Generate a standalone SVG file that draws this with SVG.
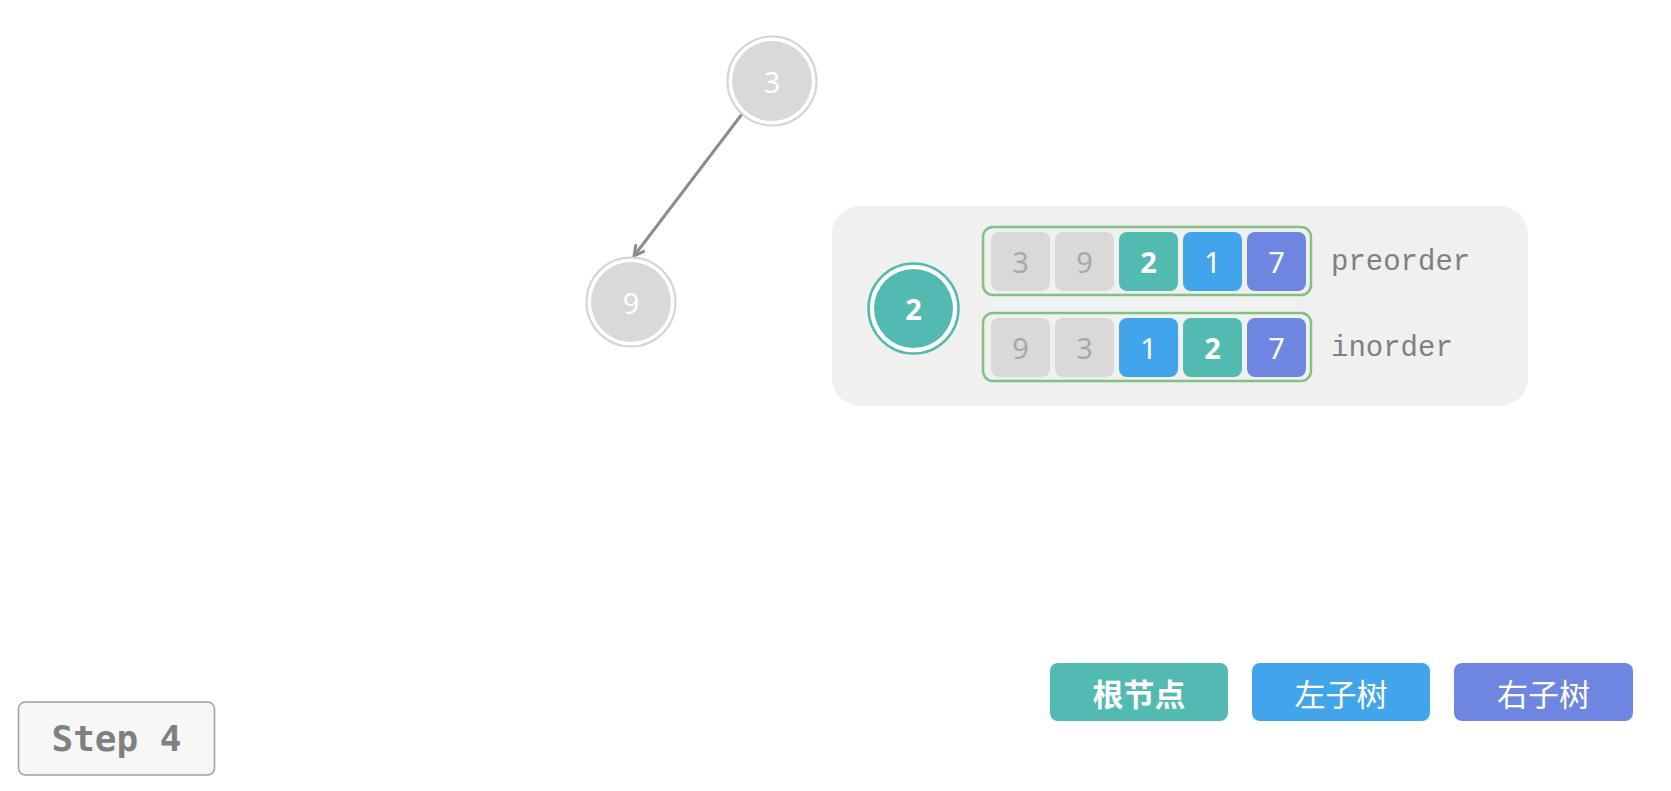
<svg xmlns="http://www.w3.org/2000/svg" width="1671" height="791" viewBox="0 0 1671 791">
<defs>
<style>
.bg{fill:#ffffff}
.gring{fill:#ffffff;stroke:#d4d4d4;stroke-width:2}
.gfill{fill:#d9d9d9}
.ntxt{font-family:"Noto Sans","Open Sans",sans-serif;font-size:29px;fill:#ffffff;text-anchor:middle;dominant-baseline:central}
.cg{fill:#d9d9d9}
.ct{fill:#52bab0}
.cb{fill:#42a5ec}
.cp{fill:#6e86e0}
.gtxt{font-family:"Noto Sans","Open Sans",sans-serif;font-size:29px;fill:#a8a8a8;text-anchor:middle;dominant-baseline:central}
.wtxt{font-family:"Noto Sans","Open Sans",sans-serif;font-size:29px;fill:#ffffff;text-anchor:middle;dominant-baseline:central}
.bold{font-weight:bold}
.lbl{font-family:"Liberation Mono","DejaVu Sans Mono",monospace;font-size:29px;fill:#808080}
.leg{font-family:"Noto Sans CJK SC","Noto Sans",sans-serif;font-size:31px;fill:#ffffff;text-anchor:middle;dominant-baseline:central}
</style>
<marker id="ah" viewBox="0 0 14 14" refX="12" refY="7" markerWidth="14" markerHeight="14" markerUnits="userSpaceOnUse" orient="auto">
<path d="M1.5,1.5 L12,7 L1.5,12.5" fill="none" stroke="#8c8c8c" stroke-width="3" stroke-linejoin="miter"/>
</marker>
</defs>
<rect class="bg" x="0" y="0" width="1671" height="791"/>

<g id="connectors">
<line x1="742" y1="114" x2="634" y2="256" stroke="#8c8c8c" stroke-width="3" marker-end="url(#ah)"/>
</g>

<g id="node-3">
<circle class="gring" cx="772" cy="81" r="44.5"/>
<circle class="gfill" cx="772" cy="81" r="40"/>
<text class="ntxt" x="772" y="81">3</text>
</g>

<g id="node-9">
<circle class="gring" cx="631" cy="302" r="44.5"/>
<circle class="gfill" cx="631" cy="302" r="40"/>
<text class="ntxt" x="631" y="302">9</text>
</g>

<g id="panel">
<rect x="832" y="206" width="696" height="200" rx="28" fill="#f0f0f0"/>
</g>

<g id="node-2">
<circle cx="913.5" cy="308.5" r="45" fill="#ffffff" stroke="#52bab0" stroke-width="2.5"/>
<circle cx="913.5" cy="308.5" r="39.5" fill="#52bab0"/>
<text class="wtxt bold" x="913.5" y="308.5">2</text>
</g>

<g id="preorder">
<rect x="983" y="227" width="328" height="68" rx="10" fill="none" stroke="#82c083" stroke-width="2.5"/>
<rect class="cg" x="991" y="232" width="59" height="59" rx="8"/>
<rect class="cg" x="1055" y="232" width="59" height="59" rx="8"/>
<rect class="ct" x="1119" y="232" width="59" height="59" rx="8"/>
<rect class="cb" x="1183" y="232" width="59" height="59" rx="8"/>
<rect class="cp" x="1247" y="232" width="59" height="59" rx="8"/>
<text class="gtxt" x="1020.5" y="261.5">3</text>
<text class="gtxt" x="1084.5" y="261.5">9</text>
<text class="wtxt bold" x="1148.5" y="261.5">2</text>
<text class="wtxt" x="1212.5" y="261.5">1</text>
<text class="wtxt" x="1276.5" y="261.5">7</text>
<text class="lbl" x="1331" y="270">preorder</text>
</g>

<g id="inorder">
<rect x="983" y="313" width="328" height="68" rx="10" fill="none" stroke="#82c083" stroke-width="2.5"/>
<rect class="cg" x="991" y="318" width="59" height="59" rx="8"/>
<rect class="cg" x="1055" y="318" width="59" height="59" rx="8"/>
<rect class="cb" x="1119" y="318" width="59" height="59" rx="8"/>
<rect class="ct" x="1183" y="318" width="59" height="59" rx="8"/>
<rect class="cp" x="1247" y="318" width="59" height="59" rx="8"/>
<text class="gtxt" x="1020.5" y="347.5">9</text>
<text class="gtxt" x="1084.5" y="347.5">3</text>
<text class="wtxt" x="1148.5" y="347.5">1</text>
<text class="wtxt bold" x="1212.5" y="347.5">2</text>
<text class="wtxt" x="1276.5" y="347.5">7</text>
<text class="lbl" x="1331" y="356">inorder</text>
</g>

<g id="legend-root">
<rect x="1050" y="663" width="178" height="58" rx="8" fill="#52bab0"/>
<text class="leg bold" x="1139" y="692">根节点</text>
</g>
<g id="legend-left">
<rect x="1252" y="663" width="178" height="58" rx="8" fill="#42a5ec"/>
<text class="leg" x="1341" y="692">左子树</text>
</g>
<g id="legend-right">
<rect x="1454" y="663" width="179" height="58" rx="8" fill="#6e86e0"/>
<text class="leg" x="1543.5" y="692">右子树</text>
</g>

<g id="step">
<rect x="18.5" y="702" width="196" height="73" rx="7" fill="#f7f7f7" stroke="#a0a0a0" stroke-width="1.5"/>
<text x="116.5" y="738.5" font-family="'DejaVu Sans Mono','Liberation Mono',monospace" font-size="36" font-weight="bold" fill="#808080" text-anchor="middle" dominant-baseline="central">Step 4</text>
</g>
</svg>
